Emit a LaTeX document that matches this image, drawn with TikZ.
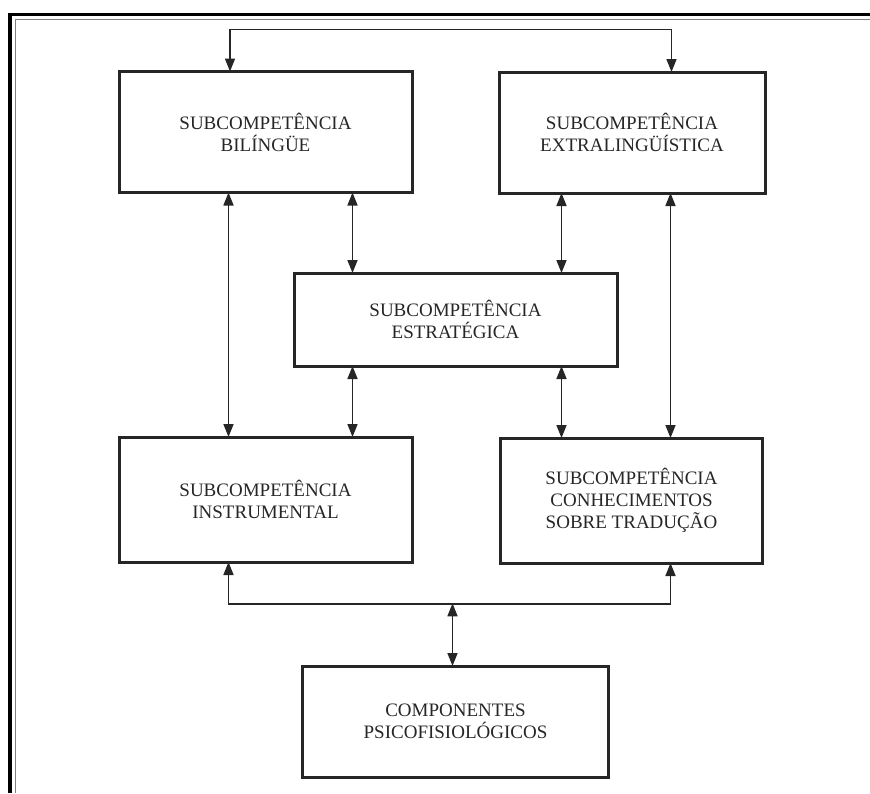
\documentclass[tikz,border=0pt]{standalone}
\usepackage{fontspec}
\setmainfont{Liberation Serif}
\usetikzlibrary{arrows.meta}
\definecolor{ink}{HTML}{262626}
\tikzset{
  box/.style={draw=ink, line width=3pt, rectangle, align=center, text=ink,
    font=\fontsize{19}{22}\selectfont, inner sep=0pt},
  link/.style={draw=ink, line width=1.6pt, {Triangle[length=13pt,width=10pt]}-{Triangle[length=13pt,width=10pt]}}
}
\begin{document}
\begin{tikzpicture}[x=1pt,y=-1pt]
\useasboundingbox (0,0) rectangle (870,793);
% outer frame
\draw[black, line width=3.5pt] (10,793) -- (10,14.3) -- (870,14.3);
\draw[gray, line width=0.9pt] (15.3,793) -- (15.3,19.3) -- (870,19.3);

% boxes
\node[box, minimum width=293pt, minimum height=121pt] (b1) at (265.5,132) {SUBCOMPETÊNCIA\\BILÍNGÜE};
\node[box, minimum width=266pt, minimum height=121pt] (b2) at (632,132.5) {SUBCOMPETÊNCIA\\EXTRALINGÜÍSTICA};
\node[box, minimum width=323pt, minimum height=93pt] (st) at (455.5,319.5) {SUBCOMPETÊNCIA\\ESTRATÉGICA};
\node[box, minimum width=293pt, minimum height=125pt] (b3) at (265.5,499.5) {SUBCOMPETÊNCIA\\INSTRUMENTAL};
\node[box, minimum width=262pt, minimum height=125pt] (b4) at (631.5,500.5) {SUBCOMPETÊNCIA\\CONHECIMENTOS\\SOBRE TRADUÇÃO};
\node[box, minimum width=306pt, minimum height=111pt] (pf) at (455.5,721.5) {COMPONENTES\\PSICOFISIOLÓGICOS};

% column / row coordinates
\coordinate (xa) at (228.5,0);
\coordinate (xb) at (352.5,0);
\coordinate (xc) at (561.5,0);
\coordinate (xd) at (670.5,0);
\coordinate (xm) at (452.5,0);
\coordinate (t1) at (230,29.5);
\coordinate (t2) at (671.5,29.5);
\coordinate (hb) at (0,604);

% top connector
\draw[link] ([yshift=-1.5pt]b1.north -| t1) -- (t1) -- (t2) -- ([yshift=-1.5pt]b2.north -| t2);

% vertical double arrows
\draw[link] ([yshift=1.5pt]b1.south -| xa) -- ([yshift=-1.5pt]b3.north -| xa);
\draw[link] ([yshift=1.5pt]b1.south -| xb) -- ([yshift=-1.5pt]st.north -| xb);
\draw[link] ([yshift=1.5pt]st.south -| xb) -- ([yshift=-1.5pt]b3.north -| xb);
\draw[link] ([yshift=1.5pt]b2.south -| xc) -- ([yshift=-1.5pt]st.north -| xc);
\draw[link] ([yshift=1.5pt]st.south -| xc) -- ([yshift=-1.5pt]b4.north -| xc);
\draw[link] ([yshift=1.5pt]b2.south -| xd) -- ([yshift=-1.5pt]b4.north -| xd);

% bottom connector
\draw[link] ([yshift=1.5pt]b3.south -| xa) -- (xa |- hb) -- (xd |- hb) -- ([yshift=1.5pt]b4.south -| xd);
\draw[link] ([yshift=0.7pt]hb -| xm) -- ([yshift=-1.5pt]pf.north -| xm);
\end{tikzpicture}
\end{document}
